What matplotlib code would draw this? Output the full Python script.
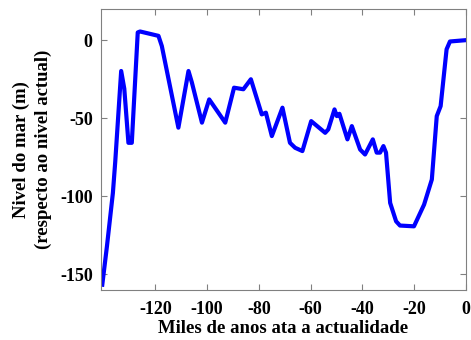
import matplotlib
matplotlib.use("Agg")
import matplotlib.pyplot as plt

# Thousands of years before present, sea level (m)
age = [-140.5, -138.7, -136.4, -135.5, -133.2, -132.0, -130.4, -129.1, -126.8, -125.9,
       -118.8, -117.5, -111.1, -107.2, -105.9, -102.0, -99.2, -93.0, -89.6, -86.0,
       -83.1, -78.9, -77.3, -75.0, -70.9, -68.0, -66.0, -63.2, -59.8, -54.4,
       -53.2, -50.8, -49.9, -48.9, -45.8, -44.1, -40.9, -39.0, -36.0, -34.5,
       -33.2, -31.9, -30.9, -29.3, -27.0, -25.5, -20.1, -16.2, -13.2, -11.3,
       -9.8, -7.5, -6.2, -0.4]
level = [-156.6, -132.0, -97.8, -78.0, -19.7, -31.0, -65.7, -65.7, 5.0, 5.6,
         2.8, -3.7, -56.0, -19.7, -27.0, -52.8, -37.9, -52.8, -30.4, -31.4,
         -25.0, -47.5, -46.4, -61.4, -43.2, -65.7, -68.9, -71.0, -51.8, -59.3,
         -57.1, -44.3, -48.6, -47.1, -63.5, -55.0, -70.0, -73.2, -63.5, -72.0,
         -72.0, -67.8, -72.0, -104.2, -116.0, -118.7, -119.2, -105.3, -89.2, -48.6,
         -42.2, -5.8, -0.8, 0.0]

xticks = [-120, -100, -80, -60, -40, -20, 0]
yticks = [-150, -100, -50, 0]

plt.rcParams['font.family'] = ['Liberation Serif', 'DejaVu Serif']
plt.rcParams['font.weight'] = 'bold'
plt.rcParams['axes.unicode_minus'] = False

fig = plt.figure(figsize=(4.71, 3.40), dpi=100)
ax = fig.add_axes([0.2144, 0.147, 0.775, 0.8265])
ax.plot(age, level, color='#0000ff', lw=3.0, solid_joinstyle='round')
ax.set_xlim(-141, 0)
ax.set_ylim(-160, 20)
ax.set_xticks(xticks)
ax.set_yticks(yticks)
ax.tick_params(direction='in', top=True, right=True, length=4, width=0.8,
               color='#808080', labelsize=13, pad=6)
ax.tick_params(axis='x', pad=8)
for lbl in ax.get_xticklabels() + ax.get_yticklabels():
    lbl.set_fontweight('bold')
for s in ax.spines.values():
    s.set_color('#808080')
    s.set_linewidth(0.8)
ax.set_xlabel('Miles de anos ata a actualidade', fontsize=13.5, fontweight='bold', labelpad=1)
ax.set_ylabel('Nivel do mar (m)\n(respecto ao nivel actual)', fontsize=13.5,
              fontweight='bold', labelpad=6, linespacing=1.3)
fig.savefig('out.png', dpi=100)
